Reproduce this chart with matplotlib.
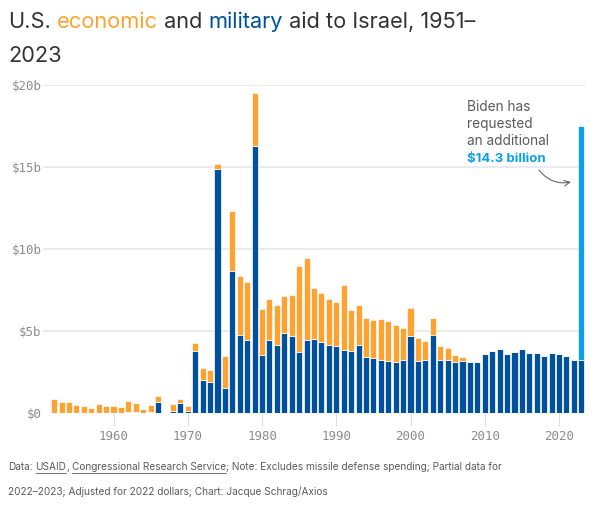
import matplotlib.pyplot as plt
from matplotlib.font_manager import FontProperties

# values in billions of 2022 dollars
years = list(range(1951, 2024))
military = [0, 0, 0, 0, 0, 0, 0, 0, 0, 0,
            0, 0.09, 0.09, 0.0, 0.08, 0.71, 0, 0.12, 0.61, 0.14,
            3.82, 2.01, 1.91, 14.88, 1.57, 8.66, 4.76, 4.45, 16.28, 3.54,
            4.46, 4.17, 4.88, 4.72, 3.72, 4.50, 4.55, 4.37, 4.18, 4.11,
            3.87, 3.78, 4.18, 3.46, 3.35, 3.27, 3.17, 3.11, 3.23, 4.70,
            3.19, 3.27, 4.78, 3.26, 3.23, 3.15, 3.21, 3.11, 3.11, 3.62,
            3.80, 3.90, 3.62, 3.72, 3.90, 3.66, 3.66, 3.50, 3.66, 3.60,
            3.48, 3.25, 3.23]
economic = [0, 0.85, 0.71, 0.71, 0.51, 0.46, 0.34, 0.55, 0.43, 0.46,
            0.38, 0.64, 0.56, 0.26, 0.42, 0.36, 0, 0.47, 0.26, 0.32,
            0.45, 0.73, 0.73, 0.30, 1.93, 3.66, 3.59, 3.58, 3.23, 2.82,
            2.49, 2.42, 2.29, 2.51, 5.26, 4.97, 3.07, 2.96, 2.78, 2.67,
            3.93, 2.50, 2.40, 2.33, 2.32, 2.46, 2.46, 2.28, 1.95, 1.72,
            1.38, 1.14, 1.01, 0.84, 0.73, 0.43, 0.22, 0, 0, 0,
            0, 0, 0, 0, 0, 0, 0, 0, 0, 0,
            0, 0, 0]
request_year = 2023
request_amount = 14.3

yticks = [0, 5, 10, 15, 20]
ytick_labels = ['$0', '$5b', '$10b', '$15b', '$20b']
xticks = [1960, 1970, 1980, 1990, 2000, 2010, 2020]

ORANGE = '#FFA22F'
BLUE = '#00509D'
LIGHT_BLUE = '#0AA0F2'
DARK = '#333333'
GRAY = '#5a5a5a'
TICK_GRAY = '#8c8c8c'

W, H = 599, 509
fig = plt.figure(figsize=(W / 100, H / 100), dpi=100)
ax = fig.add_axes([43 / W, 1 - 413.3 / H, 542 / W, 328 / H])

ax.bar(years, military, width=0.82, color=BLUE, edgecolor='white', linewidth=0.5, zorder=3)
ax.bar(years, economic, bottom=military, width=0.82, color=ORANGE,
       edgecolor='white', linewidth=0.5, zorder=3)
ax.bar([request_year], [request_amount], bottom=[military[-1]], width=0.82,
       color=LIGHT_BLUE, edgecolor='white', linewidth=0.5, zorder=3)

ax.set_xlim(1950.5, 2023.5)
ax.set_ylim(0, 20)
for s in ax.spines.values():
    s.set_visible(False)

mono = 'DejaVu Sans Mono'
ax.set_yticks(yticks)
ax.set_yticklabels(ytick_labels, family=mono, fontsize=9, color=TICK_GRAY)
ax.tick_params(axis='y', length=0, pad=1)
ax.set_xticks(xticks)
ax.set_xticklabels([str(x) for x in xticks], family=mono, fontsize=9, color=TICK_GRAY)
ax.tick_params(axis='x', length=9, width=0.8, color='#dddddd', pad=3)
ax.yaxis.grid(True, color='#e6e6e6', linewidth=1.1, zorder=0)
ax.set_axisbelow(True)
ax.yaxis.get_gridlines()[0].set_visible(False)

renderer = fig.canvas.get_renderer()


def space_width(prop):
    a = renderer.get_text_width_height_descent('x x', prop, ismath=False)[0]
    b = renderer.get_text_width_height_descent('xx', prop, ismath=False)[0]
    return a - b


def text_run(px, py, pieces, size, weight='normal'):
    # pieces: (text, color, underline) laid out left to right, in pixel coords
    prop = FontProperties(family='Inter', size=size, weight=weight)
    sp = space_width(prop)
    x = px
    for txt, color, ul in pieces:
        lead = len(txt) - len(txt.lstrip(' '))
        trail = len(txt) - len(txt.rstrip(' '))
        x += lead * sp
        t = fig.text(x / W, 1 - py / H, txt.strip(' '), color=color, fontproperties=prop,
                     va='baseline', ha='left')
        bb = t.get_window_extent(renderer)
        if ul:
            fig.lines.append(plt.Line2D([bb.x0, bb.x1], [H - py - 2.5, H - py - 2.5],
                                        transform=None, color=color, linewidth=0.6,
                                        figure=fig))
        x = bb.x1 + trail * sp


# title
text_run(8, 28.5, [('U.S. ', DARK, False), ('economic ', ORANGE, False), ('and ', DARK, False),
                   ('military ', BLUE, False), ('aid to Israel, 1951–', DARK, False)], 15.7)
text_run(8, 62.5, [('2023', DARK, False)], 15.7)

# footer
text_run(8, 470.5, [('Data: ', GRAY, False), ('USAID', GRAY, True), (', ', GRAY, False),
                    ('Congressional Research Service', GRAY, True),
                    ('; Note: Excludes missile defense spending; Partial data for', GRAY, False)], 7.25)
text_run(8, 495, [('2022–2023; Adjusted for 2022 dollars; Chart: Jacque Schrag/Axios', GRAY, False)], 7.25)

# annotation
note_lines = ['Biden has', 'requested', 'an additional']
for i, line in enumerate(note_lines):
    text_run(467, 111 + i * 17, [(line, GRAY, False)], 9.8)
text_run(467, 162, [('$14.3 billion', LIGHT_BLUE, False)], 9.5, weight='bold')

ax.annotate('', xy=(571, H - 182), xycoords='figure pixels',
            xytext=(539, H - 170), textcoords='figure pixels',
            arrowprops=dict(arrowstyle='->', color='#666666', lw=0.8,
                            connectionstyle='arc3,rad=0.3', shrinkA=0, shrinkB=0))

fig.savefig('out.png', dpi=100)
